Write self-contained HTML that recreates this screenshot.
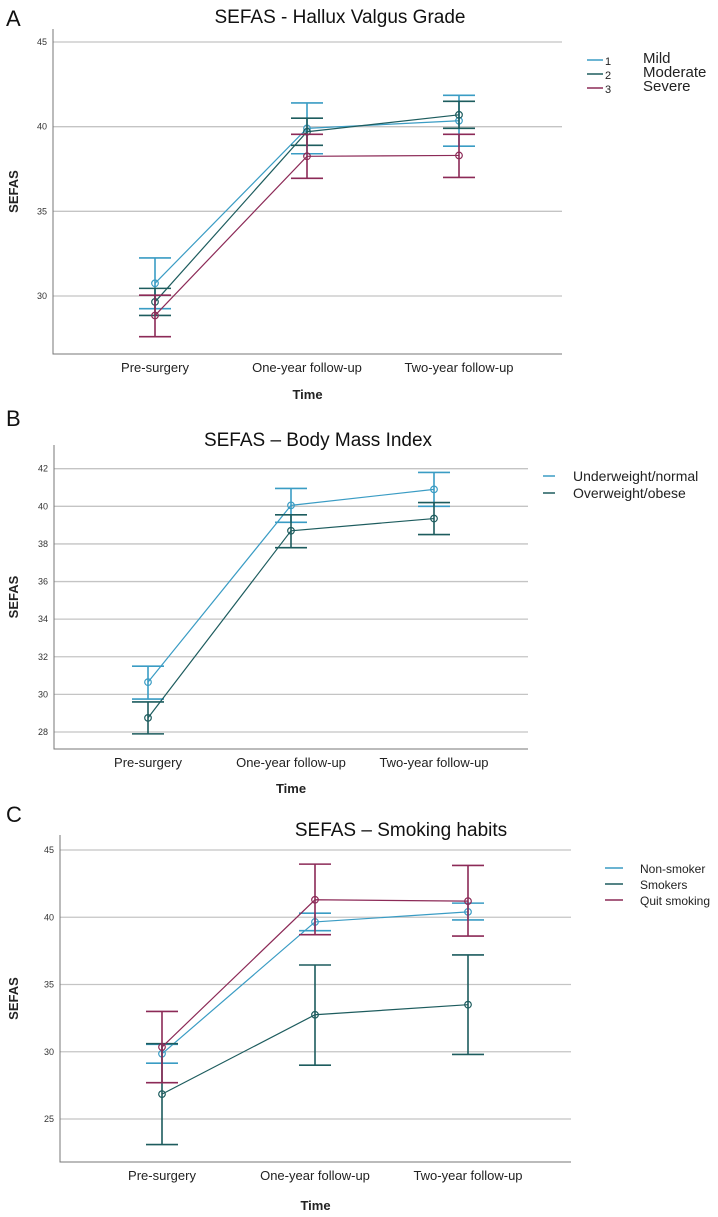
<!DOCTYPE html>
<html><head><meta charset="utf-8"><style>
body{margin:0;background:#fff;}
svg{display:block;font-family:"Liberation Sans",sans-serif;}
</style></head><body>
<svg id="chart" width="718" height="1217" viewBox="0 0 718 1217"></svg>
<script>
const categories = ["Pre-surgery","One-year follow-up","Two-year follow-up"];
// Panel A
const aSeries = ["Mild","Moderate","Severe"];
const aMean = [[30.75,39.9,40.35],[29.65,39.7,40.7],[28.85,38.25,38.3]];
const aLow  = [[29.25,38.4,38.85],[28.85,38.9,39.9],[27.6,36.95,37.0]];
const aHigh = [[32.25,41.4,41.85],[30.45,40.5,41.5],[30.05,39.55,39.55]];
const aTicks = [30,35,40,45];
// Panel B
const bSeries = ["Underweight/normal","Overweight/obese"];
const bMean = [[30.65,40.05,40.9],[28.75,38.7,39.35]];
const bLow  = [[29.75,39.15,40.0],[27.9,37.8,38.5]];
const bHigh = [[31.5,40.95,41.8],[29.6,39.55,40.2]];
const bTicks = [28,30,32,34,36,38,40,42];
// Panel C
const cSeries = ["Non-smoker","Smokers","Quit smoking"];
const cMean = [[29.85,39.65,40.4],[26.85,32.75,33.5],[30.35,41.3,41.2]];
const cLow  = [[29.15,39.0,39.8],[23.1,29.0,29.8],[27.7,38.7,38.6]];
const cHigh = [[30.55,40.3,41.05],[30.6,36.45,37.2],[33.0,43.95,43.85]];
const cTicks = [25,30,35,40,45];

const colors = ["#3a9cc4","#1d5c5e","#8c2a57"];
const NS = "http://www.w3.org/2000/svg";
const svg = document.getElementById("chart");
function mk(tag, attrs, parent, text){
  const e = document.createElementNS(NS, tag);
  for (const k in attrs) e.setAttribute(k, attrs[k]);
  if (text !== undefined) e.textContent = text;
  (parent||svg).appendChild(e);
  return e;
}

function panel(cfg){
  const g = mk("g", {});
  
  
  const y = v => cfg.y0 + (v - cfg.v0) * (cfg.y1 - cfg.y0) / (cfg.v1 - cfg.v0);
  const x = i => cfg.xs[0] + i * (cfg.xs[1] - cfg.xs[0]);
  const letter = mk("text", {x:cfg.letterX, y:cfg.letterY, "font-size":22, fill:"#111"}, g, cfg.letter);
  
  
  const title = mk("text", {x:cfg.titleX, y:cfg.titleY, "font-size":19, "text-anchor":"middle", fill:"#111"}, g, cfg.title);
  
  
  cfg.ticks.forEach(t => {
    const gl = mk("line", {x1:cfg.left, x2:cfg.right, y1:y(t), y2:y(t), stroke:"#c4c4c4", "stroke-width":1.3}, g);
    
    
    const tl = mk("text", {x:cfg.left-6, y:y(t)+3, "font-size":9, "text-anchor":"end", fill:"#333"}, g, t);
    
    
  });
  const ax = mk("path", {d:`M${cfg.left},${cfg.top} V${cfg.bottom} H${cfg.right}`, fill:"none", stroke:"#777", "stroke-width":1}, g);
  
  
  categories.forEach((c,i) => {
    const t = mk("text", {x:x(i), y:cfg.bottom+18, "font-size":13, "text-anchor":"middle", fill:"#222"}, g, c);
    
    
  });
  const xt = mk("text", {x:(cfg.left+cfg.right)/2+ (cfg.timeDx||0), y:cfg.timeY, "font-size":13, "font-weight":"bold", "text-anchor":"middle", fill:"#222"}, g, "Time");
  
  
  const cy = (cfg.top+cfg.bottom)/2;
  const yt = mk("text", {x:18, y:cy, "font-size":13, "font-weight":"bold", "text-anchor":"middle", fill:"#222", transform:`rotate(-90 18 ${cy})`}, g, "SEFAS");
  
  
  cfg.mean.forEach((ser, s) => {
    const col = cfg.colors[s];
    const pts = ser.map((v,i) => `${x(i)},${y(v)}`).join(" ");
    const ln = mk("polyline", {points:pts, fill:"none", stroke:col, "stroke-width":1.2}, g);
    
    
    ser.forEach((v,i) => {
      const xi = x(i), lo = y(cfg.low[s][i]), hi = y(cfg.high[s][i]);
      const eb = mk("path", {d:`M${xi},${lo} V${hi} M${xi-16},${lo} H${xi+16} M${xi-16},${hi} H${xi+16}`, fill:"none", stroke:col, "stroke-width":1.6}, g);
      
      
      const pt = mk("circle", {cx:xi, cy:y(v), r:3.3, fill:"none", stroke:col, "stroke-width":1.2}, g);
      
      
    });
    const lg = mk("g", {}, g);
    
    
    const ly = cfg.legY[s];
    mk("line", {x1:cfg.legX, x2:cfg.legX+cfg.legW, y1:ly, y2:ly, stroke:col, "stroke-width":1.5}, lg);
    if (cfg.legNum) mk("text", {x:cfg.legX+cfg.legW+2, y:ly+5, "font-size":11, fill:"#222"}, lg, String(s+1));
    mk("text", {x:cfg.legTextX, y:ly+(cfg.legNum?3:5), "font-size":cfg.legFont, fill:"#222"}, lg, cfg.series[s]);
  });
}

panel({name:"panel-a-hallux-valgus", letter:"A", letterX:6, letterY:26, title:"SEFAS - Hallux Valgus Grade", titleX:340, titleY:23,
  v0:30, v1:45, y0:296, y1:42, top:29, bottom:354, left:53, right:562, xs:[155,307], ticks:aTicks,
  mean:aMean, low:aLow, high:aHigh, series:aSeries, colors:colors, timeY:399,
  legX:587, legW:16, legNum:true, legTextX:643, legY:[60,74,88], legFont:15});
panel({name:"panel-b-bmi", letter:"B", letterX:6, letterY:426, title:"SEFAS – Body Mass Index", titleX:318, titleY:446,
  v0:28, v1:42, y0:732, y1:468.7, top:445, bottom:749, left:54, right:528, xs:[148,291], ticks:bTicks,
  mean:bMean, low:bLow, high:bHigh, series:bSeries, colors:[colors[0],colors[1]], timeY:793, timeDx:0,
  legX:543, legW:12, legNum:false, legTextX:573, legY:[476,493], legFont:14});
panel({name:"panel-c-smoking", letter:"C", letterX:6, letterY:822, title:"SEFAS – Smoking habits", titleX:401, titleY:836,
  v0:25, v1:45, y0:1119, y1:850, top:835, bottom:1162, left:60, right:571, xs:[162,315], ticks:cTicks,
  mean:cMean, low:cLow, high:cHigh, series:cSeries, colors:colors, timeY:1210,
  legX:605, legW:18, legNum:false, legTextX:640, legY:[868,884,900], legFont:12});
</script>
</body></html>
